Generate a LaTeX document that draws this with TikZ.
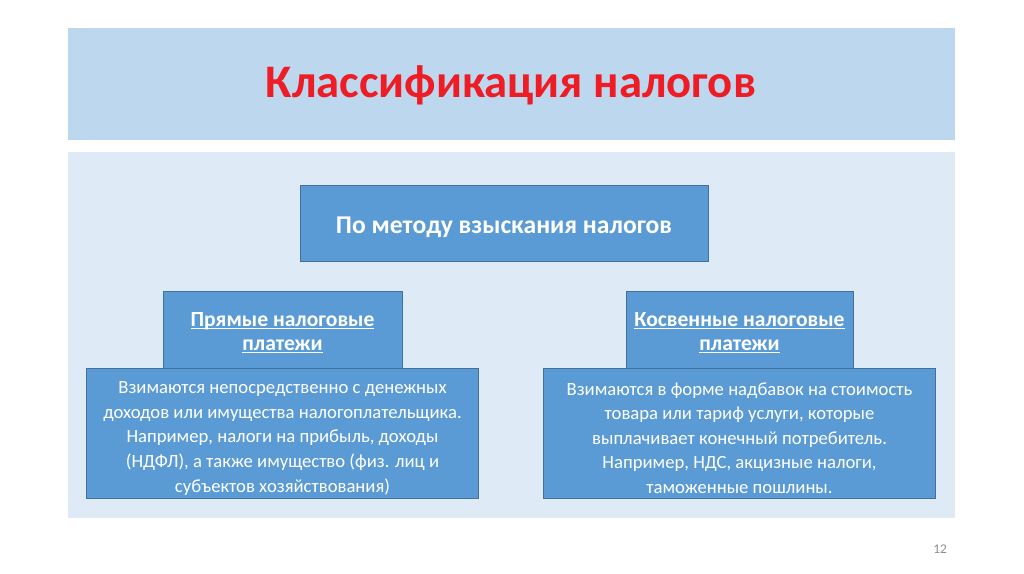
\documentclass[tikz,border=0pt]{standalone}
\usepackage{fontspec}
\setmainfont{Carlito}
\usetikzlibrary{positioning}
\definecolor{bandblue}{HTML}{BDD7EE}
\definecolor{panelblue}{HTML}{DEEBF7}
\definecolor{boxblue}{HTML}{5B9BD5}
\definecolor{boxline}{HTML}{41719C}
\definecolor{titlered}{HTML}{EE1C24}
\definecolor{numgray}{HTML}{8C8C8C}
% underline that runs through descenders
\newcommand{\ultext}[1]{\setbox0\hbox{#1}\rlap{\rule[-1.8pt]{\wd0}{0.8pt}}\box0}

\begin{document}
\begin{tikzpicture}[x=0.75pt, y=-0.75pt,
            box/.style={draw=boxline, fill=boxblue, text=white, align=center, inner sep=0pt, line width=0.6pt},
            headbox/.style={box, font=\fontsize{16.2}{18}\selectfont\bfseries},
            textbox/.style={box, font=\fontsize{14}{18.4}\selectfont, minimum width=294pt, minimum height=97.5pt}]
        \useasboundingbox (0,0) rectangle (1024,574);
        % background bands
        \fill[bandblue] (68,28) rectangle (955,140);
        \fill[panelblue] (68,152) rectangle (955,518);
        \node[text=titlered, font=\fontsize{35}{40}\selectfont\bfseries] (title) at (511,85) {Классификация налогов};
        % top box
        \node[box, font=\fontsize{19.2}{22}\selectfont\bfseries, minimum width=306pt, minimum height=57pt] (method) at (504,223)
            {\rule{0pt}{18.5pt}По методу взыскания налогов};
        % direct taxes
        \node[headbox, minimum width=179.25pt, minimum height=57.75pt] (direct) at (282.5,329.5)
            {\rule{0pt}{15pt}\ultext{Прямые налоговые}\\\ultext{платежи}};
        \node[textbox, below=0pt of direct] (directtext)
            {\rule{0pt}{16pt}Взимаются непосредственно с денежных\\доходов или имущества налогоплательщика.\\Например, налоги на прибыль, доходы\\(НДФЛ), а также имущество (физ. лиц и\\субъектов хозяйствования)};
        % indirect taxes
        \node[headbox, minimum width=170.25pt, minimum height=57.75pt] (indirect) at (739.5,329.5)
            {\rule{0pt}{15pt}\ultext{Косвенные налоговые}\\\ultext{платежи}};
        \node[textbox, below=0pt of indirect] (indirecttext)
            {\rule{0pt}{16pt}Взимаются в форме надбавок на стоимость\\товара или тариф услуги, которые\\выплачивает конечный потребитель.\\Например, НДС, акцизные налоги,\\таможенные пошлины.};
        \node[text=numgray, font=\fontsize{10}{12}\selectfont] (pagenum) at (940,549) {12};
\end{tikzpicture}
\end{document}
